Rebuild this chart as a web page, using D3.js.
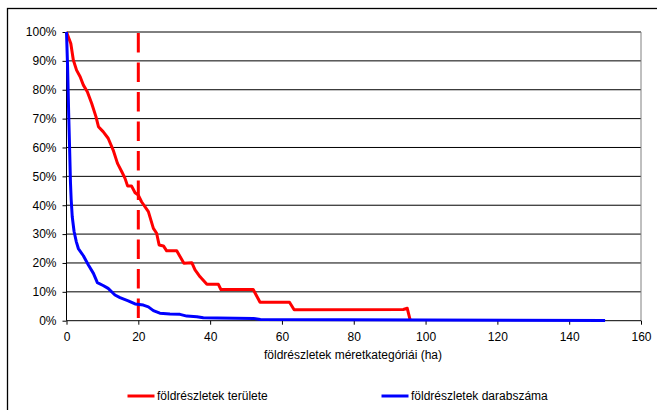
<!DOCTYPE html>
<html>
<head>
<meta charset="utf-8">
<script src="https://cdn.jsdelivr.net/npm/d3@7/dist/d3.min.js"></script>
<style>
  html, body { margin: 0; padding: 0; background: #fff; }
  svg { display: block; font-family: "Liberation Sans", Arial, sans-serif; }
</style>
</head>
<body>
<svg id="chart" width="657" height="410"></svg>
<script>
// ---- data (values in %) ----
const areaX = [0, 1.2, 1.9, 2.8, 3.8, 4.7, 5.8, 7.0, 8.2, 8.9, 10.2, 11.6, 13.0, 14.2, 15.4, 16.3, 17.0, 18.1, 19.1, 20.0, 20.9, 22.8, 24.2, 25.1, 25.8, 27.0, 27.9, 30.7, 32.7, 34.9, 35.8, 37.2, 39.1, 42.3, 43.0, 52.0, 53.9, 62.1, 63.4, 93.8, 94.9, 95.7];
const areaY = [100, 96, 90.3, 86.8, 84.5, 81.6, 79.3, 75.3, 70.7, 67.2, 65.5, 63.2, 59.1, 54.5, 51.6, 49.3, 46.7, 46.7, 44.3, 43.5, 41.2, 37.8, 32.0, 30.3, 26.2, 25.9, 24.2, 24.2, 19.9, 20.1, 17.6, 15.2, 12.6, 12.6, 10.8, 10.8, 6.4, 6.4, 3.8, 3.9, 4.3, 0.3];

const countX = [0, 0.3, 0.6, 0.9, 1.1, 1.3, 1.6, 2.1, 2.7, 3.3, 4.7, 6.1, 7.5, 8.6, 10.2, 11.6, 13.5, 14.9, 17.2, 19.1, 21.4, 22.8, 24.2, 26.0, 28.8, 31.6, 33.5, 36.3, 38.1, 42.0, 52.0, 54.0, 100, 150];
const countY = [100, 88, 72, 58, 48, 42, 36, 31, 27.5, 25, 22.5, 19.3, 16.4, 13.2, 12.2, 11.2, 8.9, 8.0, 6.9, 5.8, 5.4, 4.8, 3.5, 2.6, 2.3, 2.2, 1.6, 1.4, 1.0, 0.9, 0.8, 0.4, 0.2, 0.1];

const xTicks = [0, 20, 40, 60, 80, 100, 120, 140, 160];
const yTicks = [0, 10, 20, 30, 40, 50, 60, 70, 80, 90, 100];
const markerX = 20;

const seriesNames = ["földrészletek területe", "földrészletek darabszáma"];
const seriesColors = ["#ff0000", "#0000ff"];
const xTitle = "földrészletek méretkategóriái (ha)";

// ---- layout ----
const svg = d3.select("#chart");
const x = d3.scaleLinear().domain([0, 160]).range([66.5, 641]);
const y = d3.scaleLinear().domain([0, 100]).range([320.7, 32]);

// outer frame (extends beyond right/bottom edge)
svg.append("rect").attr("x", 7.5).attr("y", 8.5).attr("width", 700).attr("height", 500)
  .attr("fill", "none").attr("stroke", "#000").attr("stroke-width", 1.3);

// gridlines
svg.append("g").selectAll("line").data(yTicks.filter(d => d > 0)).join("line")
  .attr("x1", x(0)).attr("x2", x(160))
  .attr("y1", d => y(d)).attr("y2", d => y(d))
  .attr("stroke", "#000").attr("stroke-width", 1);

// right border of plot
svg.append("line").attr("x1", x(160)).attr("x2", x(160)).attr("y1", y(100)).attr("y2", y(0))
  .attr("stroke", "#808080").attr("stroke-width", 1);

// axes
const yAxis = d3.axisLeft(y).tickValues(yTicks).tickFormat(d => d + "%").tickSize(4).tickPadding(6);
const gy = svg.append("g").attr("transform", `translate(${x(0)},0)`).call(yAxis);
const xAxis = d3.axisBottom(x).tickValues(xTicks).tickFormat(d3.format("d")).tickSize(4).tickPadding(8);
const gx = svg.append("g").attr("transform", `translate(0,${y(0)})`).call(xAxis);
[gy, gx].forEach(g => {
  g.select(".domain").attr("stroke", "#000").attr("stroke-width", 1);
  g.selectAll(".tick line").attr("stroke", "#000");
  g.selectAll(".tick text").attr("fill", "#000").style("font-size", "12px")
    .style("font-family", '"Liberation Sans", Arial, sans-serif');
});
gy.select(".domain").attr("d", `M0,${y(100)}V${y(0)}`);
gx.select(".domain").attr("d", `M${x(0)},0H${x(160)}`);

// dashed vertical marker
svg.append("line").attr("x1", x(markerX)).attr("x2", x(markerX)).attr("y1", 33).attr("y2", y(0))
  .attr("stroke", "#ff0000").attr("stroke-width", 3).attr("stroke-dasharray", "19.5,10");

// series lines
const line = d3.line().x(d => x(d[0])).y(d => y(d[1]));
const series = [d3.zip(areaX, areaY), d3.zip(countX, countY)];
svg.append("g").selectAll("path").data(series).join("path")
  .attr("d", line)
  .attr("fill", "none")
  .attr("stroke", (d, i) => seriesColors[i])
  .attr("stroke-width", 3)
  .attr("stroke-linejoin", "round");

// x title
svg.append("text").attr("x", 353).attr("y", 359).attr("text-anchor", "middle")
  .style("font-size", "12px").attr("fill", "#000").text(xTitle);

// legend
const legendX = [127.5, 381.5];
const lg = svg.append("g").selectAll("g").data(seriesNames).join("g")
  .attr("transform", (d, i) => `translate(${legendX[i]},396)`);
lg.append("line").attr("x1", 0).attr("x2", 27).attr("y1", 0).attr("y2", 0)
  .attr("stroke", (d, i) => seriesColors[i]).attr("stroke-width", 3);
lg.append("text").attr("x", 29.5).attr("y", 4.3).style("font-size", "12px").attr("fill", "#000")
  .text(d => d);
</script>
</body>
</html>
